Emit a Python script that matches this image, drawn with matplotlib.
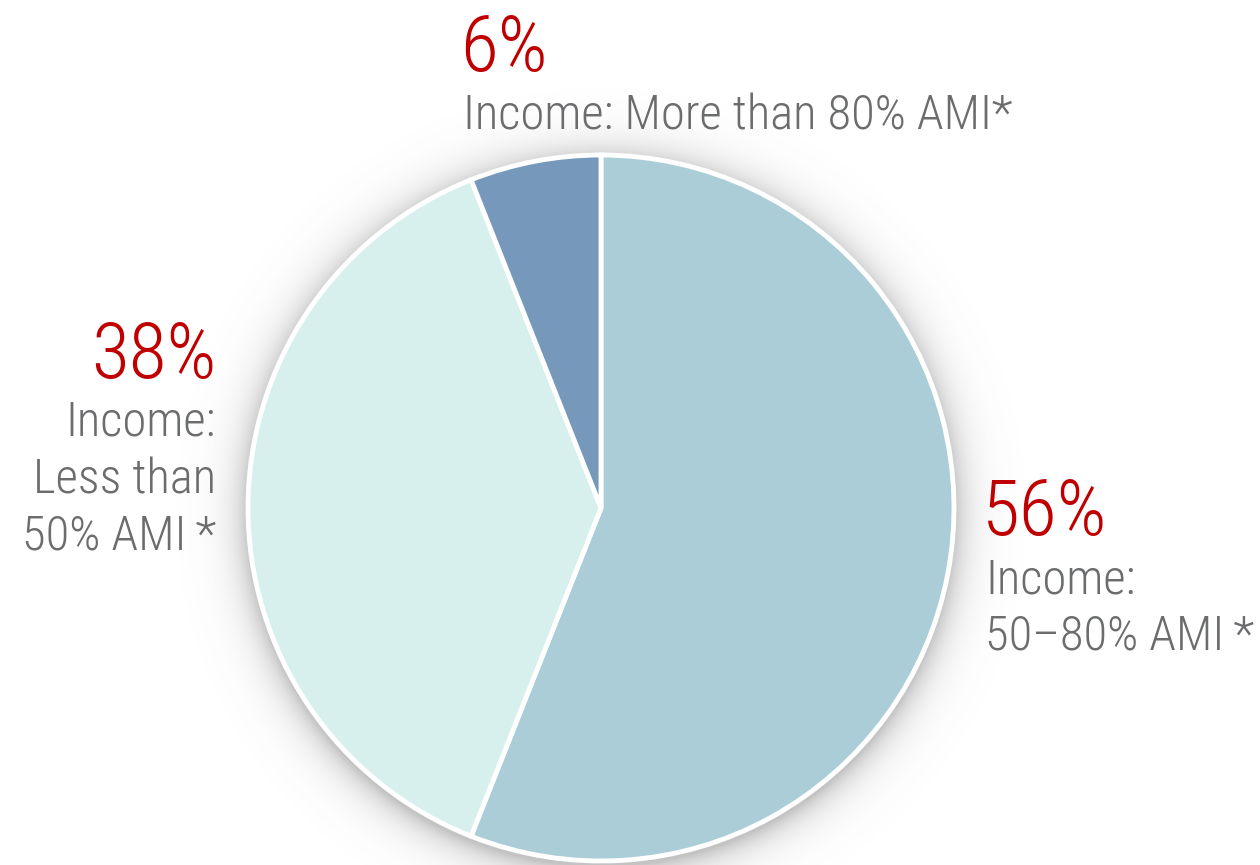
import numpy as np
import matplotlib
matplotlib.use("Agg")
import matplotlib.pyplot as plt
import matplotlib.font_manager as fm

# ---- data ----
shares = [56, 38, 6]
pct_labels = ["56%", "38%", "6%"]
desc_labels = ["Income:\n50\u201380% AMI\u2009*", "Income:\nLess than\n50% AMI\u2009*", "Income: More than 80% AMI*"]
slice_colors = ["#abcdd8", "#d7efed", "#7699bb"]

# ---- font ----
names = {f.name for f in fm.fontManager.ttflist}
family = "DejaVu Sans"
stretch = "condensed"
for cand in ["Roboto Condensed", "Liberation Sans Narrow", "Open Sans Condensed"]:
    if cand in names:
        family = cand
        stretch = "normal"
        break

W, H = 1260, 865
fig = plt.figure(figsize=(W / 100, H / 100), dpi=100)
ax = fig.add_axes([0, 0, 1, 1])
ax.set_xlim(0, W)
ax.set_ylim(0, H)
ax.set_aspect("equal")
ax.axis("off")

cx, cy, r = 601, H - 508, 353

# soft shadow around pie
yy, xx = np.mgrid[0:H, 0:W]
d = np.hypot(xx + 0.5 - cx, (H - yy - 0.5) - (cy - 5))
a = np.where(d > r - 5, 0.36 * np.exp(-np.clip(d - r, 0, None) / 16.0), 0.36)
img = np.zeros((H, W, 4))
img[..., :3] = 0.35
img[..., 3] = a
ax.imshow(img, extent=[0, W, 0, H], origin="upper", zorder=0, interpolation="bilinear")

ax.pie(shares, colors=slice_colors, startangle=90, counterclock=False,
       center=(cx, cy), radius=r, frame=True,
       wedgeprops=dict(edgecolor="white", linewidth=3.5, zorder=2))
ax.set_xlim(0, W)
ax.set_ylim(0, H)
ax.axis("off")

red = "#c00000"
gray = "#6b6c6e"
big = 56
small = 35
pitch = 57

# label placements: (x, baseline y of pct in px from top, ha)
places = [(985, 535, "left"), (216, 378, "right"), (463, 71, "left")]
for (x, yb, ha), p, dsc in zip(places, pct_labels, desc_labels):
    ax.text(x - (3 if ha == "left" else 0), H - yb, p, color=red, fontsize=big, ha=ha, va="baseline",
            family=family, fontstretch=stretch, fontweight="light")
    lines = dsc.split("\n")
    first = yb + 58
    for i, ln in enumerate(lines):
        ax.text(x, H - (first + i * pitch), ln, color=gray, fontsize=small, ha=ha,
                va="baseline", family=family, fontstretch=stretch, fontweight="light")

fig.savefig("out.png", dpi=100, facecolor="white")
